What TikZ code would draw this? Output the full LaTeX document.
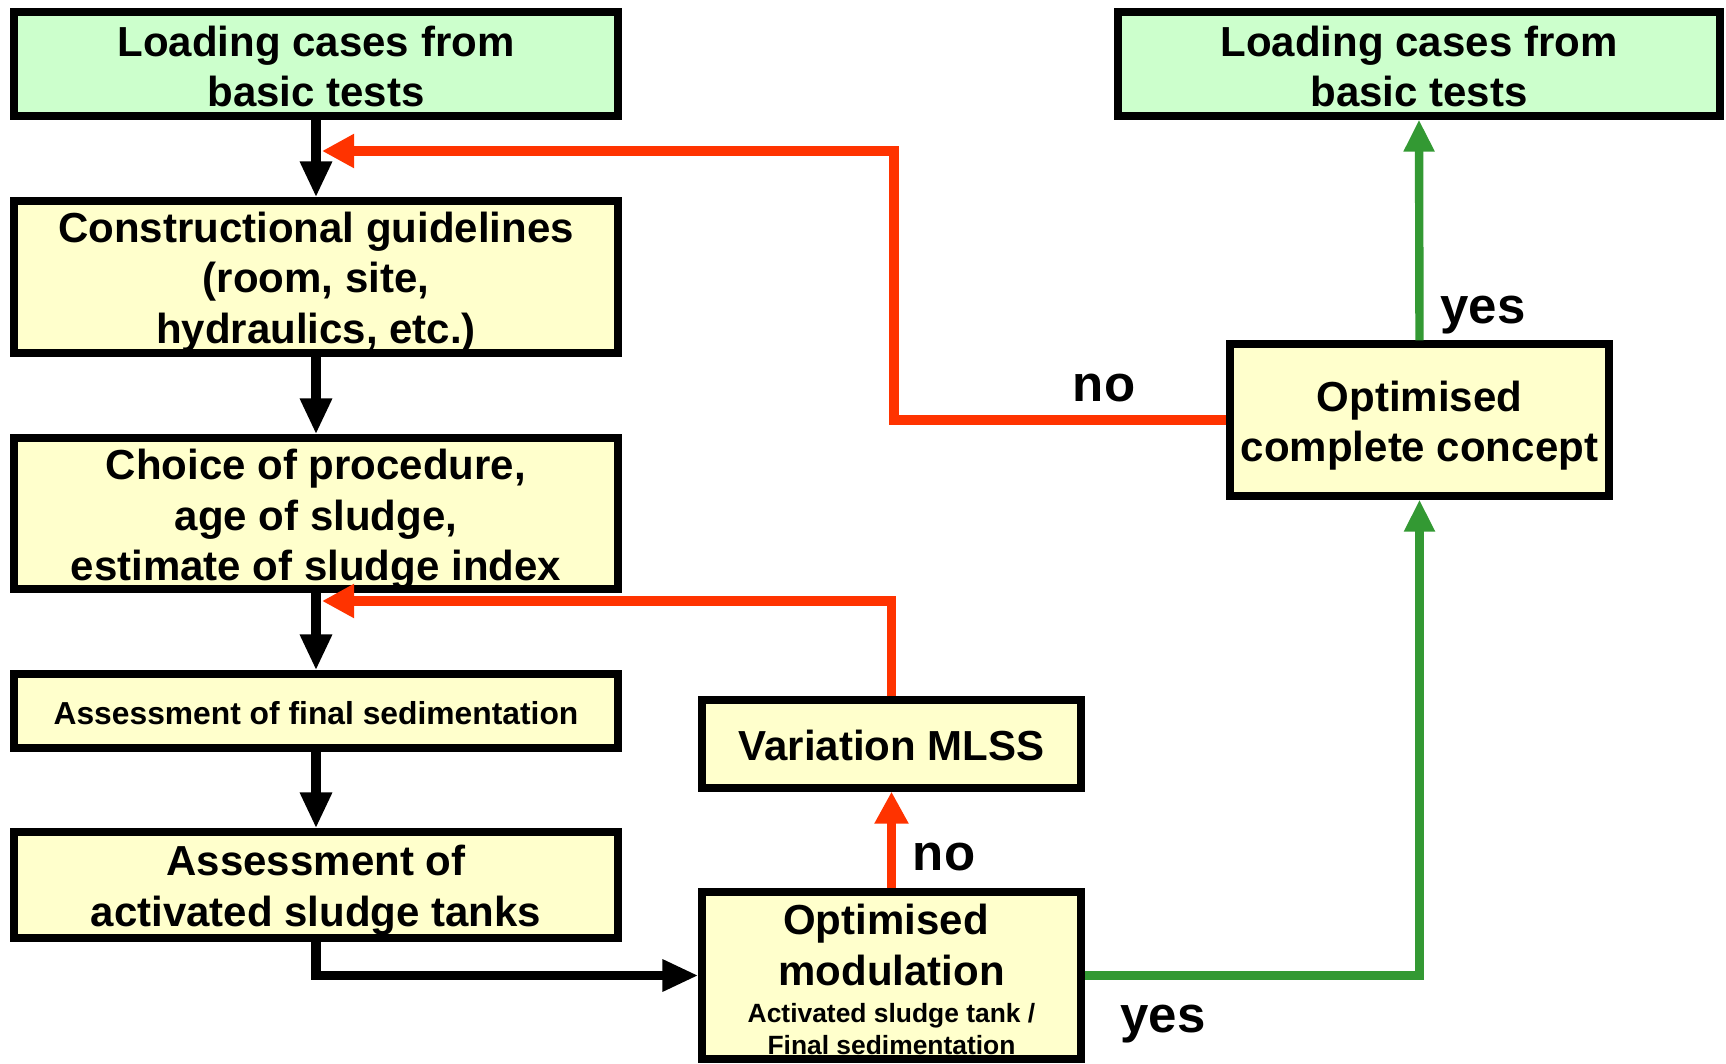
\documentclass[tikz,border=0pt]{standalone}
\usepackage{fontspec}
\setmainfont{Liberation Sans}
\usetikzlibrary{arrows.meta}
\definecolor{boxgreen}{HTML}{CCFFCC}
\definecolor{boxyellow}{HTML}{FFFFCC}
\definecolor{lred}{HTML}{FF3300}
\definecolor{lgreen}{HTML}{339933}
\begin{document}
\begin{tikzpicture}[x=0.5pt,y=-0.5pt,
  box/.style={draw=black, line width=3.6pt, inner sep=0pt},
  gbox/.style={box, fill=boxgreen},
  ybox/.style={box, fill=boxyellow},
  wide/.style={minimum width=302pt},
  narrow/.style={minimum width=189.5pt},
  txt/.style={inner sep=0pt, align=center, font=\fontsize{21}{25.3}\selectfont\bfseries},
  blk/.style={draw=black, line width=4.8pt, line join=miter, -{Triangle[length=18pt,width=15pt]}},
  redl/.style={draw=lred, line width=4.6pt, line join=miter, -{Triangle[length=16pt,width=16pt]}},
  grnl/.style={draw=lgreen, line width=4.2pt, line join=miter, -{Triangle[length=16pt,width=14.5pt]}},
  lbl/.style={inner sep=0pt, font=\fontsize{25.5}{30}\selectfont\bfseries},
  big/.style={inner sep=0pt, anchor=base, font=\fontsize{21}{25.3}\selectfont\bfseries},
  small/.style={inner sep=0pt, anchor=base, font=\fontsize{13.2}{16}\selectfont\bfseries}]
\useasboundingbox (0,0) rectangle (1726,1064);

% left column boxes
\node[gbox, wide, minimum height=52pt] (l1) at (316,64) {};
\node[ybox, wide, minimum height=76pt] (l2) at (316,277) {};
\node[ybox, wide, minimum height=75.5pt] (l3) at (316,513.5) {};
\node[ybox, wide, minimum height=37pt] (l4) at (316,711) {};
\node[ybox, wide, minimum height=53pt] (l5) at (316,885) {};
\node[txt, yshift=-1.2pt] (l1t) at (l1) {Loading cases from\\basic tests};
\node[txt, yshift=-2.5pt] (l2t) at (l2) {Constructional guidelines\\(room, site,\\hydraulics, etc.)};
\node[txt, yshift=-3pt] (l3t) at (l3) {Choice of procedure,\\age of sludge,\\estimate of sludge index};
\node[txt, yshift=-1.2pt, font=\fontsize{15.9}{19}\selectfont\bfseries] (l4t) at (l4) {Assessment of final sedimentation};
\node[txt, yshift=-2.5pt] (l5t) at (l5) {Assessment of\\activated sludge tanks};

% middle column
\node[ybox, narrow, minimum height=44pt] (m1) at (891.5,744) {};
\node[txt, yshift=-0.6pt] (m1t) at (m1) {Variation MLSS};
\node[ybox, narrow, minimum height=83.5pt] (m2) at (891.5,975.5) {};
\node[big] (m2a) at (886,934) {Optimised};
\node[big] (m2b) at (891.5,985) {modulation};
\node[small] (m2c) at (891.5,1022) {Activated sludge tank /};
\node[small] (m2d) at (891.5,1054) {Final sedimentation};

% right column
\node[gbox, minimum width=301pt, minimum height=52pt] (r1) at (1419,64) {};
\node[txt, yshift=-1.2pt] (r1t) at (r1) {Loading cases from\\basic tests};
\node[ybox, narrow, minimum height=76pt] (r2) at (1419.5,420) {};
\node[txt, yshift=-2.8pt] (r2t) at (r2) {Optimised\\complete concept};

% junction points
\coordinate (k1) at (894,151);
\coordinate (j1) at (322,151);
\coordinate (j2) at (322,601);

% black flow
\draw[blk] (l1.south) -- (l2.north);
\draw[blk] (l2.south) -- (l3.north);
\draw[blk] (l3.south) -- (l4.north);
\draw[blk] (l4.south) -- (l5.north);
\draw[blk] (l5.south) -- (l5.south |- m2.west) -- (m2.west);

% red feedback
\draw[redl] (r2.west) -- (r2.west -| k1) -- (k1) -- (j1);
\draw[redl] (m1.north) -- (m1.north |- j2) -- (j2);
\draw[redl] (m2.north) -- (m1.south);

% green
\draw[grnl] (m2.east) -- (m2.east -| r2.south) -- (r2.south);
\draw[grnl] (r2.north) -- (r1.south);

% labels
\node[lbl] (no1) at (1104,388) {no};
\node[lbl] (no2) at (944,857) {no};
\node[lbl] (yes1) at (1483,315) {yes};
\node[lbl] (yes2) at (1163,1024) {yes};
\end{tikzpicture}
\end{document}
